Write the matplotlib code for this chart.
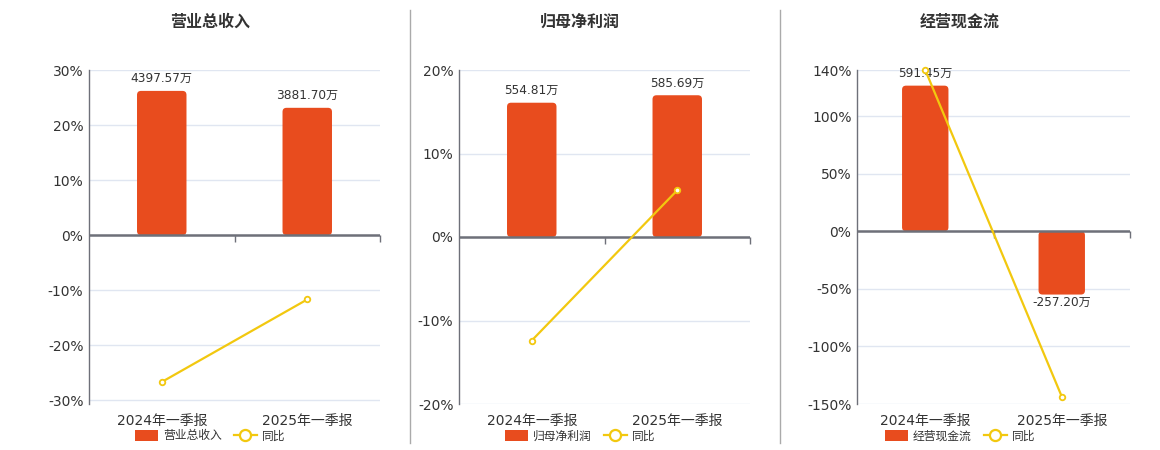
import numpy as np
import matplotlib
matplotlib.use("Agg")
import matplotlib.pyplot as plt
from matplotlib.patches import FancyBboxPatch, Rectangle
from matplotlib.lines import Line2D

plt.rcParams['font.family'] = ['DejaVu Sans', 'Noto Sans CJK SC']

# 数据
periods = ["2024年一季报", "2025年一季报"]
titles = ["营业总收入", "归母净利润", "经营现金流"]
rev = [4397.57, 3881.70]          # 万
profit = [554.81, 585.69]
cashflow = [591.45, -257.20]
rev_yoy = [-26.7, -11.7]          # %
profit_yoy = [-12.4, 5.6]
cashflow_yoy = [140.0, -143.5]

values = [rev, profit, cashflow]
yoys = [rev_yoy, profit_yoy, cashflow_yoy]
pct_ticks = [[-30, -20, -10, 0, 10, 20, 30],
             [-20, -10, 0, 10, 20],
             [-150, -100, -50, 0, 50, 100, 140]]
pct_lims = [(-30.7, 30), (-20, 20), (-150, 140)]
bar_tops = [5035, 690, 655]       # 柱状轴上限 (对应百分比轴上限)

BAR = '#E84C1E'
LINE = '#F2C80F'
AXC = '#6E7079'
GRID = '#E0E6F1'
TXT = '#333333'

W, H = 1160, 450
fig = plt.figure(figsize=(W / 100, H / 100), dpi=100)

lefts = [89, 459, 857]
rights = [380, 750, 1130]
centers = [210, 580, 960]
top_px, bot_px = 70, 404

for i in range(3):
    l, r = lefts[i], rights[i]
    axb = fig.add_axes([l / W, (H - bot_px) / H, (r - l) / W, (bot_px - top_px) / H])
    ax = axb.twinx()
    lo, hi = pct_lims[i]
    k = hi / bar_tops[i]
    x = np.arange(len(periods))

    # 柱状 (次轴)
    axb.set_xlim(-0.5, len(periods) - 0.5)
    axb.set_ylim(lo / k, bar_tops[i])
    bars = axb.bar(x, values[i], width=0.34, color=BAR)
    ppx = (r - l) / (len(periods))
    ppy = (bot_px - top_px) / (bar_tops[i] - lo / k)
    rad = 4 / ppx
    for b in bars:
        bx, by, bw, bh = b.get_x(), b.get_y(), b.get_width(), b.get_height()
        if bh < 0:
            by, bh = by + bh, -bh
        b.set_visible(False)
        axb.add_patch(FancyBboxPatch((bx, by), bw, bh,
                                     boxstyle=f"round,pad=0,rounding_size={rad}",
                                     mutation_aspect=ppx / ppy,
                                     fc=BAR, ec='none', zorder=2))
    for xi, v in zip(x, values[i]):
        off = 4 if v >= 0 else -1
        axb.annotate(f"{v:.2f}万", (xi, v), xytext=(0, off), textcoords='offset points',
                     ha='center', va='bottom' if v >= 0 else 'top',
                     fontsize=8.7, color=TXT, zorder=5)

    axb.set_yticks(np.array(pct_ticks[i]) / k)
    axb.yaxis.grid(True, color=GRID, lw=1)
    axb.set_axisbelow(True)
    axb.tick_params(axis='y', left=False, labelleft=False)
    axb.set_xticks(x, periods)
    axb.tick_params(axis='x', length=0, labelsize=10, labelcolor=TXT, pad=7)
    for s in axb.spines.values():
        s.set_visible(False)

    # 零轴及刻度
    axb.axhline(0, color=AXC, lw=1.8, zorder=3)
    frac0 = (0 - lo) / (hi - lo)
    sec = axb.secondary_xaxis(frac0)
    sec.xaxis.set_ticks_position('bottom')
    sec.set_xticks([0.5, 1.5], ["", ""])
    sec.tick_params(axis='x', length=5, width=1, color=AXC, direction='out',
                    bottom=True, top=False)
    for s in sec.spines.values():
        s.set_visible(False)

    # 同比 (主百分比轴)
    ax.yaxis.tick_left()
    ax.set_ylim(lo, hi)
    ax.set_yticks(pct_ticks[i], [f"{t}%" for t in pct_ticks[i]])
    ax.tick_params(axis='y', length=0, labelsize=10, labelcolor=TXT, pad=4)
    ax.plot(x, yoys[i], color=LINE, lw=1.6, marker='o', markersize=4,
            mfc='white', mec=LINE, mew=1.3, clip_on=False, zorder=4)
    for name, s in ax.spines.items():
        s.set_visible(name == 'left')
    ax.spines['left'].set_color(AXC)
    ax.spines['left'].set_linewidth(1)

    fig.text(centers[i] / W, 1 - 22 / H, titles[i], ha='center', va='center',
             fontsize=11.5, fontweight='bold', color=TXT)

    handles = [Rectangle((0, 0), 1, 1, fc=BAR, ec='none'),
               Line2D([], [], color=LINE, lw=1.6, marker='o', markersize=8,
                      mfc='white', mec=LINE, mew=1.6)]
    fig.legend(handles, [titles[i], "同比"], loc='center',
               bbox_to_anchor=(centers[i] / W, 14 / H), ncol=2, frameon=False,
               fontsize=8.5, handlelength=2.0, handleheight=1.0,
               columnspacing=1.0, handletextpad=0.4, labelcolor=TXT)

for sx in [410, 780]:
    fig.add_artist(Line2D([sx / W, sx / W], [1 - 10 / H, 1 - 443 / H],
                          color='#AAAAAA', lw=1))

fig.savefig("out.png", dpi=100)
